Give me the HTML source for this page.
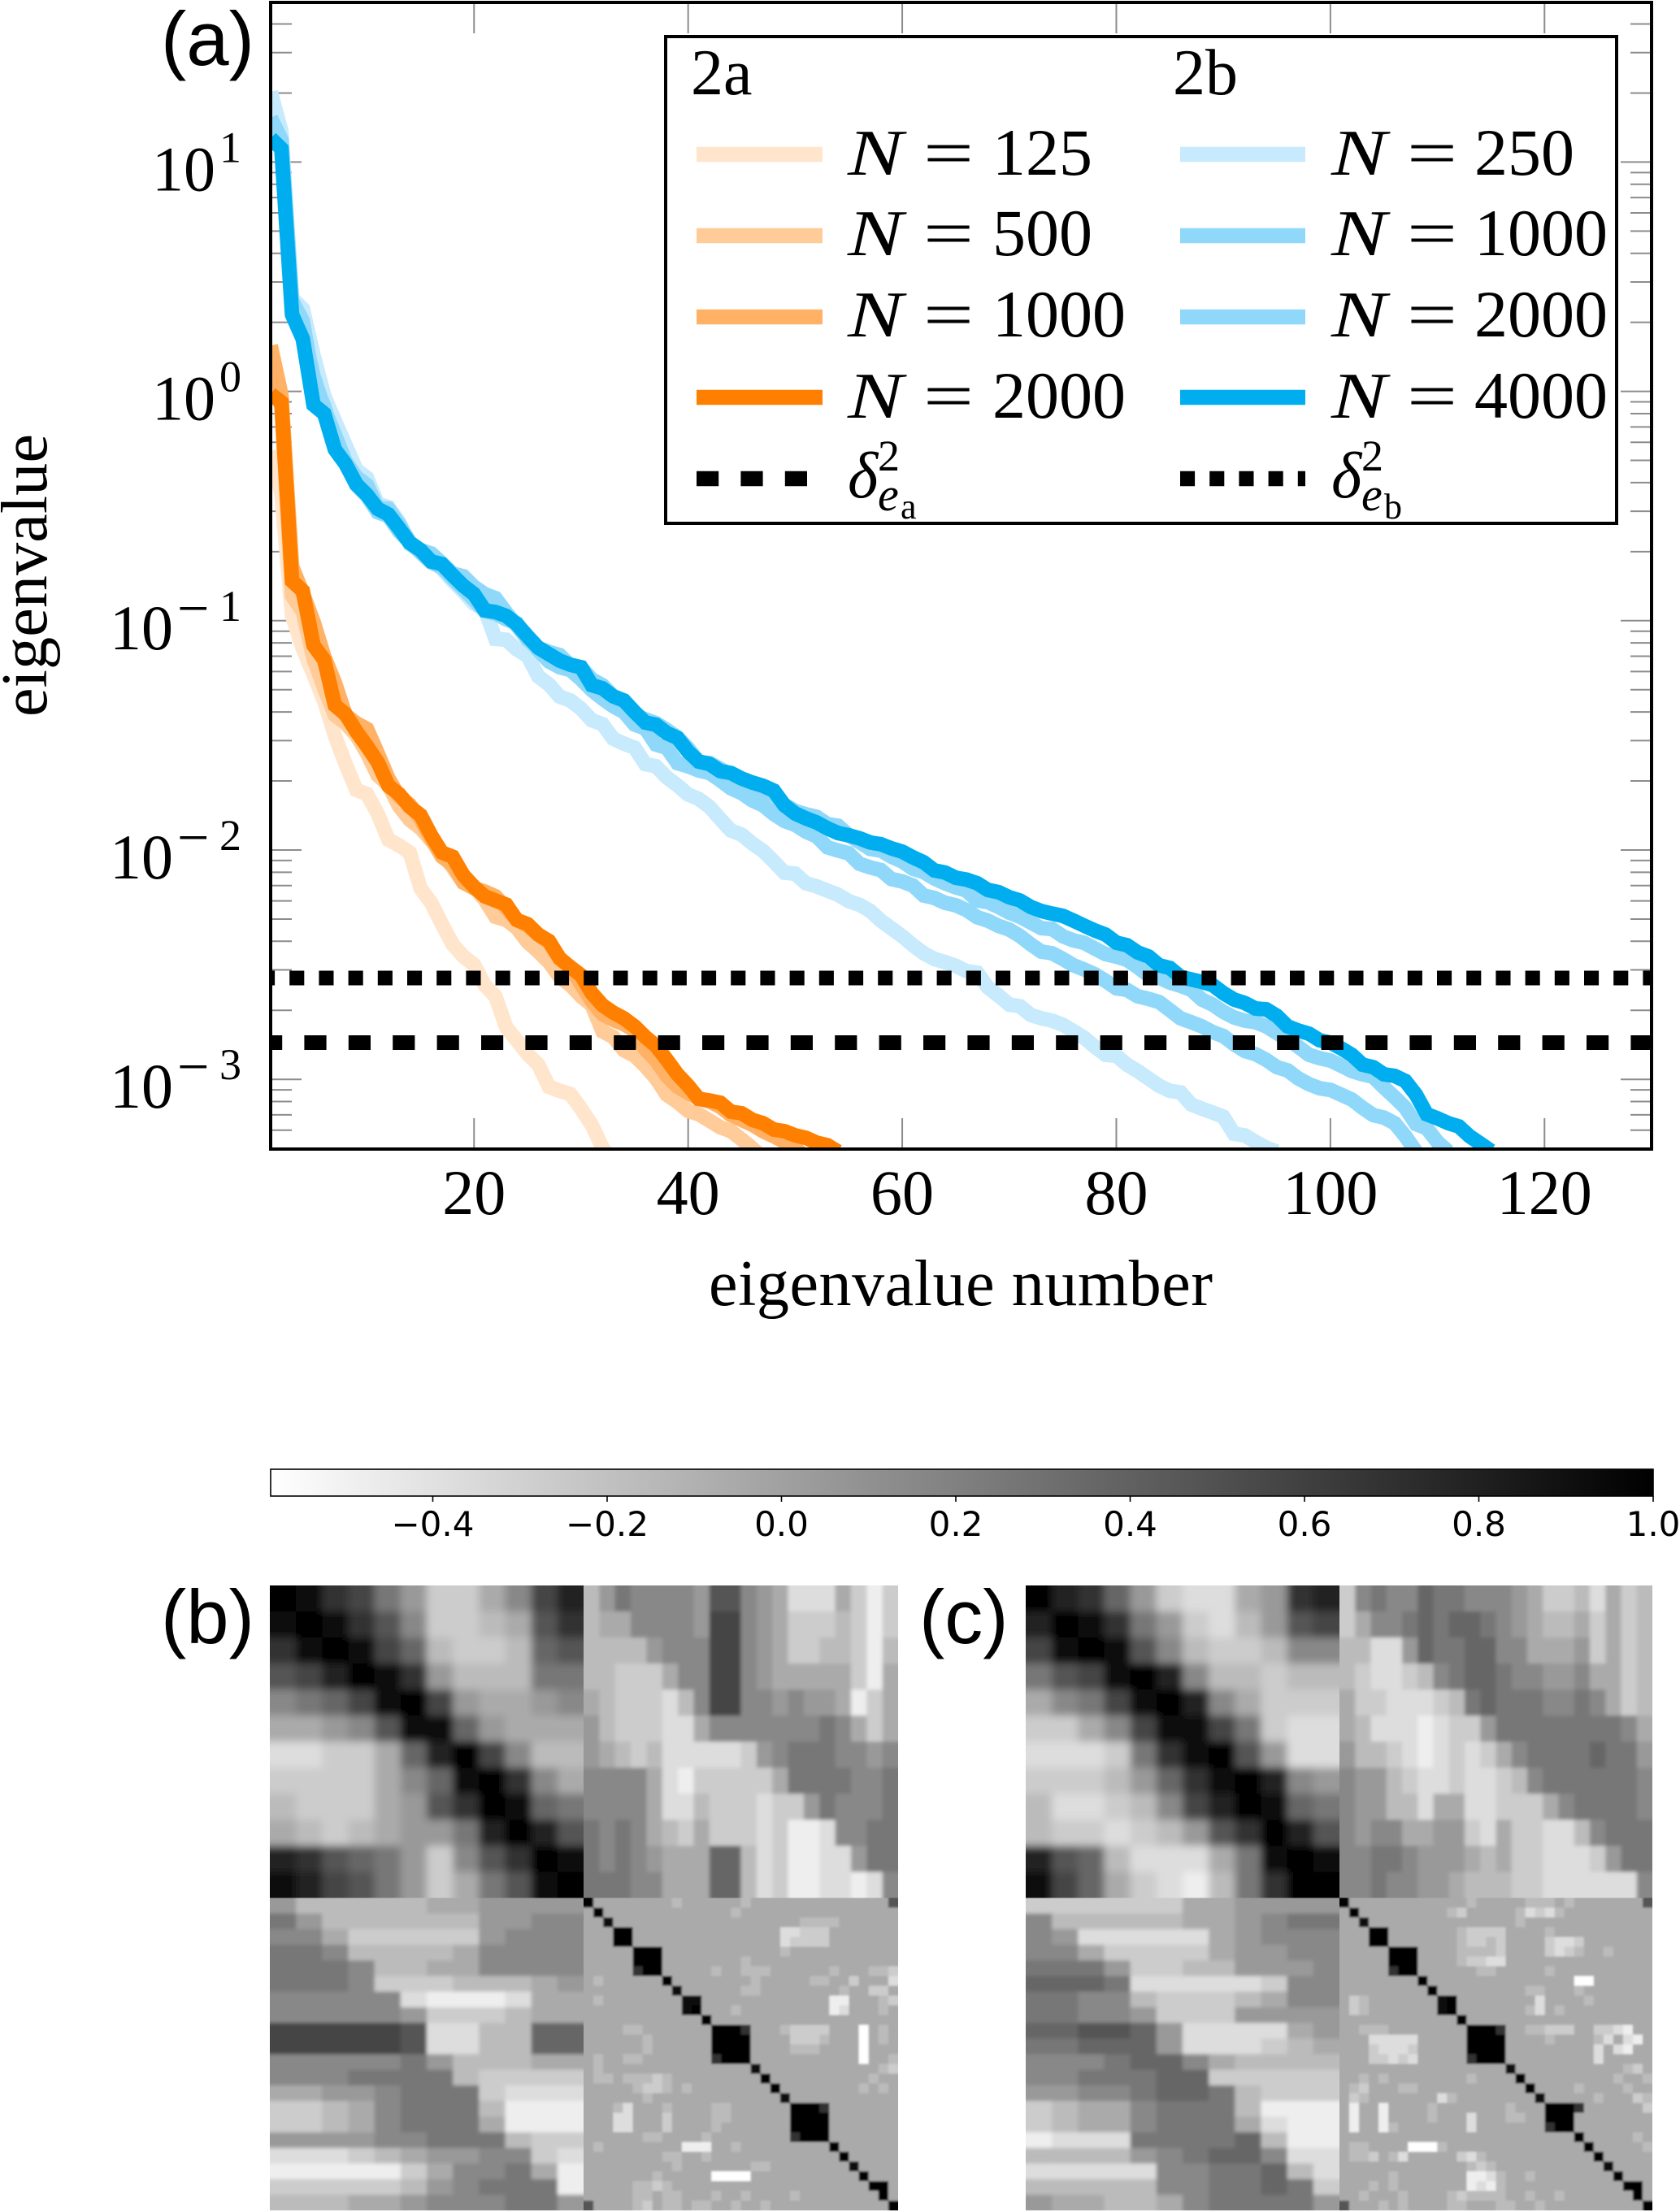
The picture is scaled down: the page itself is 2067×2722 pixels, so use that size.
<!DOCTYPE html>
<html>
<head>
<meta charset="utf-8">
<title>Eigenvalue spectra and correlation matrices</title>
<style>
html,body{margin:0;padding:0;background:#fff;}
svg{display:block;}
text{font-family:"Liberation Serif",serif;fill:#000;}
</style>
</head>
<body>
<svg id="fig" xmlns="http://www.w3.org/2000/svg" width="2067" height="2722" viewBox="0 0 2067 2722">
<defs>
<clipPath id="axclip"><rect x="333" y="3" width="1699" height="1411"/></clipPath>
<linearGradient id="cbgrad" x1="0" x2="1" y1="0" y2="0"><stop offset="0" stop-color="#fff"/><stop offset="1" stop-color="#000"/></linearGradient>
<filter id="blurA" filterUnits="userSpaceOnUse" x="0" y="1800" width="2067" height="922"><feGaussianBlur stdDeviation="5"/></filter>
<filter id="blurB" filterUnits="userSpaceOnUse" x="0" y="1800" width="2067" height="922"><feGaussianBlur stdDeviation="2.5"/></filter>
<filter id="blurC" filterUnits="userSpaceOnUse" x="0" y="1800" width="2067" height="922"><feGaussianBlur stdDeviation="1.3"/></filter>
</defs>

<g id="ticks"></g>
<g id="curves" clip-path="url(#axclip)"></g>
<g id="hlines" clip-path="url(#axclip)"></g>
<rect x="333" y="3" width="1699" height="1411" fill="none" stroke="#000" stroke-width="4"/>
<g id="ticklabels"></g>

<text x="198" y="80" font-size="94" style="font-family:'Liberation Sans',sans-serif">(a)</text>
<text x="1182" y="1606" font-size="80" text-anchor="middle" textLength="620">eigenvalue number</text>
<text x="57" y="708" font-size="80" text-anchor="middle" textLength="348" transform="rotate(-90 57 708)">eigenvalue</text>

<g>
<rect x="819" y="45" width="1170" height="599" fill="#fff" stroke="#000" stroke-width="4"/>
<text x="850" y="116" font-size="80">2a</text>
<text x="1443" y="116" font-size="80">2b</text>
<g stroke-width="18.4" fill="none">
<line x1="857" x2="1012" y1="190" y2="190" stroke="#ffe5cc"/>
<line x1="857" x2="1012" y1="290" y2="290" stroke="#ffcc99"/>
<line x1="857" x2="1012" y1="390" y2="390" stroke="#ffb266"/>
<line x1="857" x2="1012" y1="489" y2="489" stroke="#ff8000"/>
<line x1="857" x2="1012" y1="589" y2="589" stroke="#000" stroke-dasharray="27.2 27.2"/>
<line x1="1452" x2="1606" y1="190" y2="190" stroke="#c7eafc"/>
<line x1="1452" x2="1606" y1="290" y2="290" stroke="#8fd8f9"/>
<line x1="1452" x2="1606" y1="390" y2="390" stroke="#8fd8f9"/>
<line x1="1452" x2="1606" y1="489" y2="489" stroke="#00aeef"/>
<line x1="1452" x2="1606" y1="589" y2="589" stroke="#000" stroke-dasharray="18.1 18.1"/>
</g>
<g font-size="80">
<g><text x="1043" y="215" font-style="italic" textLength="68" lengthAdjust="spacingAndGlyphs">N</text><text x="1136" y="215" textLength="62" lengthAdjust="spacingAndGlyphs">=</text><text x="1221" y="215" font-size="82">125</text></g>
<g><text x="1043" y="314" font-style="italic" textLength="68" lengthAdjust="spacingAndGlyphs">N</text><text x="1136" y="314" textLength="62" lengthAdjust="spacingAndGlyphs">=</text><text x="1221" y="314" font-size="82">500</text></g>
<g><text x="1043" y="414" font-style="italic" textLength="68" lengthAdjust="spacingAndGlyphs">N</text><text x="1136" y="414" textLength="62" lengthAdjust="spacingAndGlyphs">=</text><text x="1221" y="414" font-size="82">1000</text></g>
<g><text x="1043" y="514" font-style="italic" textLength="68" lengthAdjust="spacingAndGlyphs">N</text><text x="1136" y="514" textLength="62" lengthAdjust="spacingAndGlyphs">=</text><text x="1221" y="514" font-size="82">2000</text></g>
<g><text x="1638" y="215" font-style="italic" textLength="68" lengthAdjust="spacingAndGlyphs">N</text><text x="1731" y="215" textLength="62" lengthAdjust="spacingAndGlyphs">=</text><text x="1814" y="215" font-size="82">250</text></g>
<g><text x="1638" y="314" font-style="italic" textLength="68" lengthAdjust="spacingAndGlyphs">N</text><text x="1731" y="314" textLength="62" lengthAdjust="spacingAndGlyphs">=</text><text x="1814" y="314" font-size="82">1000</text></g>
<g><text x="1638" y="414" font-style="italic" textLength="68" lengthAdjust="spacingAndGlyphs">N</text><text x="1731" y="414" textLength="62" lengthAdjust="spacingAndGlyphs">=</text><text x="1814" y="414" font-size="82">2000</text></g>
<g><text x="1638" y="514" font-style="italic" textLength="68" lengthAdjust="spacingAndGlyphs">N</text><text x="1731" y="514" textLength="62" lengthAdjust="spacingAndGlyphs">=</text><text x="1814" y="514" font-size="82">4000</text></g>
<g><text x="1043" y="612" font-style="italic">δ</text><text x="1080" y="579" font-size="54">2</text><text x="1080" y="628" font-size="58" font-style="italic">e</text><text x="1108" y="638" font-size="44">a</text></g>
<g><text x="1638" y="612" font-style="italic">δ</text><text x="1675" y="579" font-size="54">2</text><text x="1675" y="628" font-size="58" font-style="italic">e</text><text x="1703" y="638" font-size="44">b</text></g>
</g>
</g>

<g id="colorbar">
<rect x="333" y="1808" width="1701" height="33" fill="url(#cbgrad)" stroke="#000" stroke-width="1.6"/>
</g>

<text x="198" y="2022" font-size="94" style="font-family:'Liberation Sans',sans-serif">(b)</text>
<text x="1131" y="2022" font-size="94" style="font-family:'Liberation Sans',sans-serif">(c)</text>
<g id="heatB"></g>
<g id="heatC"></g>
</svg>

<script>
// ---- Panel (a) data: log10(eigenvalue), listed for eigenvalue number 1, 2, 3, ...
const log10Eig2a125 = [-.260,-.444,-.976,-1.121,-1.235,-1.352,-1.501,-1.625,-1.738,-1.756,-1.841,-1.955,-1.980,-2.011,-2.167,-2.231,-2.323,-2.411,-2.464,-2.500,-2.589,-2.638,-2.773,-2.830,-2.890,-2.936,-3.032,-3.050,-3.064,-3.128,-3.199,-3.298,-3.362];
const log10Eig2a500 = [.041,-.065,-.891,-.962,-1.164,-1.295,-1.412,-1.447,-1.500,-1.578,-1.674,-1.717,-1.809,-1.869,-1.905,-1.958,-2.011,-2.075,-2.142,-2.160,-2.217,-2.291,-2.305,-2.340,-2.401,-2.443,-2.489,-2.553,-2.589,-2.638,-2.677,-2.791,-2.815,-2.873,-2.897,-2.943,-2.996,-3.067,-3.099,-3.138,-3.152,-3.180,-3.209,-3.226,-3.262,-3.301,-3.343];
const log10Eig2a1000 = [.200,-.016,-.763,-.880,-1.004,-1.156,-1.270,-1.412,-1.447,-1.472,-1.578,-1.688,-1.767,-1.802,-1.866,-1.951,-2.029,-2.064,-2.142,-2.167,-2.181,-2.202,-2.252,-2.305,-2.330,-2.369,-2.404,-2.476,-2.511,-2.585,-2.660,-2.716,-2.741,-2.759,-2.787,-2.869,-2.918,-2.985,-3.032,-3.060,-3.085,-3.096,-3.120,-3.156,-3.177,-3.198,-3.226,-3.248,-3.273,-3.298,-3.343];
const log10Eig2a2000 = [-.012,-.047,-.827,-.870,-1.107,-1.171,-1.369,-1.408,-1.483,-1.547,-1.617,-1.720,-1.756,-1.812,-1.848,-1.937,-2.011,-2.029,-2.110,-2.160,-2.202,-2.220,-2.238,-2.305,-2.323,-2.369,-2.397,-2.472,-2.511,-2.546,-2.624,-2.677,-2.709,-2.734,-2.769,-2.815,-2.854,-2.914,-2.978,-3.028,-3.085,-3.092,-3.102,-3.141,-3.148,-3.177,-3.191,-3.219,-3.226,-3.244,-3.255,-3.276,-3.287,-3.315];
const log10Eig2b250 = [1.306,1.133,.406,.360,.158,-.019,-.129,-.235,-.342,-.377,-.490,-.505,-.569,-.668,-.692,-.735,-.774,-.827,-.873,-.926,-.951,-1.079,-1.083,-1.125,-1.154,-1.243,-1.278,-1.331,-1.348,-1.384,-1.434,-1.451,-1.515,-1.536,-1.554,-1.625,-1.635,-1.683,-1.718,-1.758,-1.777,-1.812,-1.865,-1.915,-1.933,-1.972,-2.004,-2.050,-2.099,-2.103,-2.145,-2.158,-2.177,-2.195,-2.223,-2.239,-2.265,-2.308,-2.342,-2.376,-2.415,-2.450,-2.475,-2.489,-2.505,-2.528,-2.535,-2.599,-2.635,-2.674,-2.681,-2.719,-2.734,-2.744,-2.762,-2.790,-2.819,-2.858,-2.893,-2.897,-2.936,-2.964,-2.996,-3.028,-3.050,-3.057,-3.110,-3.128,-3.145,-3.163,-3.237,-3.244,-3.273,-3.298,-3.315];
const log10Eig2b1000 = [1.193,1.097,.396,.307,.041,-.065,-.224,-.313,-.409,-.456,-.527,-.544,-.611,-.658,-.703,-.746,-.767,-.816,-.862,-.909,-.958,-.969,-.994,-1.011,-1.075,-1.129,-1.178,-1.203,-1.215,-1.256,-1.303,-1.340,-1.373,-1.398,-1.453,-1.470,-1.540,-1.554,-1.621,-1.635,-1.653,-1.664,-1.696,-1.731,-1.752,-1.784,-1.805,-1.843,-1.873,-1.890,-1.920,-1.940,-1.988,-2.002,-2.014,-2.060,-2.076,-2.087,-2.127,-2.137,-2.155,-2.198,-2.209,-2.230,-2.241,-2.262,-2.293,-2.308,-2.331,-2.347,-2.375,-2.411,-2.443,-2.450,-2.475,-2.503,-2.521,-2.542,-2.571,-2.603,-2.610,-2.638,-2.649,-2.663,-2.698,-2.734,-2.751,-2.769,-2.794,-2.811,-2.847,-2.876,-2.890,-2.915,-2.947,-2.961,-2.996,-3.021,-3.039,-3.046,-3.067,-3.088,-3.124,-3.156,-3.167,-3.191,-3.248,-3.315];
const log10Eig2b2000 = [1.140,1.069,.360,.271,.066,-.076,-.189,-.306,-.374,-.409,-.508,-.512,-.579,-.657,-.692,-.707,-.749,-.795,-.806,-.852,-.884,-.902,-.965,-1.022,-1.082,-1.118,-1.136,-1.150,-1.196,-1.203,-1.256,-1.281,-1.330,-1.348,-1.412,-1.430,-1.447,-1.476,-1.508,-1.557,-1.617,-1.621,-1.646,-1.674,-1.699,-1.717,-1.738,-1.759,-1.802,-1.830,-1.844,-1.855,-1.887,-1.894,-1.936,-1.965,-1.995,-2.002,-2.029,-2.050,-2.082,-2.096,-2.124,-2.145,-2.163,-2.177,-2.220,-2.227,-2.248,-2.273,-2.291,-2.316,-2.341,-2.344,-2.376,-2.394,-2.405,-2.430,-2.454,-2.465,-2.479,-2.511,-2.546,-2.557,-2.578,-2.592,-2.610,-2.652,-2.674,-2.706,-2.730,-2.744,-2.751,-2.769,-2.798,-2.826,-2.858,-2.893,-2.908,-2.918,-2.940,-2.964,-2.978,-2.989,-3.035,-3.078,-3.124,-3.195,-3.213,-3.273,-3.315];
const log10Eig2b4000 = [1.104,1.058,.335,.229,-.059,-.097,-.253,-.317,-.405,-.451,-.512,-.537,-.597,-.661,-.692,-.742,-.753,-.802,-.848,-.884,-.955,-.962,-.979,-1.015,-1.068,-1.118,-1.146,-1.174,-1.192,-1.203,-1.281,-1.295,-1.330,-1.348,-1.398,-1.444,-1.454,-1.490,-1.511,-1.571,-1.614,-1.625,-1.656,-1.664,-1.688,-1.706,-1.720,-1.741,-1.805,-1.841,-1.862,-1.880,-1.905,-1.926,-1.936,-1.949,-1.967,-1.975,-1.993,-2.007,-2.032,-2.053,-2.089,-2.098,-2.121,-2.129,-2.145,-2.174,-2.184,-2.206,-2.220,-2.248,-2.266,-2.277,-2.287,-2.308,-2.330,-2.351,-2.369,-2.404,-2.415,-2.447,-2.464,-2.503,-2.514,-2.553,-2.564,-2.575,-2.589,-2.624,-2.652,-2.667,-2.691,-2.695,-2.723,-2.769,-2.787,-2.801,-2.830,-2.840,-2.865,-2.893,-2.936,-2.947,-2.978,-2.985,-3.007,-3.067,-3.152,-3.170,-3.191,-3.205,-3.248,-3.280,-3.312];
const log10Delta2a = -2.84;
const log10Delta2b = -2.558;
const xTickValues = [20,40,60,80,100,120];
const yTickExponents = [1,0,-1,-2,-3];
const colorbarTicks = [-0.4,-0.2,0.0,0.2,0.4,0.6,0.8,1.0];

// ---- Correlation matrices: each hex digit is a gray level (0 black .. f white)
const heatB_TL = ["0134 79cc a842","1013 58cc ba53","3101 46bc cb65","5420 139b bb77","8764 1049 aa98","aa98 5116 9aaa","ddcc a620 48bb","cccc a861 038a","bccc a953 0167","abcb a997 2025","2356 79c8 5301","1245 79ca 7510"];
const heatB_TR = ["b978 8889 5589 addd acec","baa8 8889 4489 accc bcec","bbbb 9888 4489 accb bceb","bbcc ca88 4489 aaaa acea","abcc cdb8 4488 9899 aeca","9bcc cdda 8888 8887 8aca","9abc bddd ddc9 8777 8898","8888 adec cccc a777 7887","8888 addb cccd cc97 8887","7878 abca cccd ceed 8877","7878 9aaa 66bd ceed d977","7778 8aaa 66bd ceed ded8"];
const heatB_BL = ["9bbb bbaa 9999","79bb bbbb 9988","88ac cccc 9888","778b bbba 8888","7778 bbaa 8888","7778 cccb bba9","8888 8dee edaa","8888 89cc cbaa","4444 45dd bb66","4444 45dd bb66","8888 879b bbaa","8887 777b cccc","aa99 8777 cddd","ccba 8777 beee","ccba 8777 aeee","9999 8877 7bcc","dddc ba99 88cd","eeee eca8 87ae","cccc cb98 777e","bbba a988 8779"];
const heatB_BR = ["0aaaaaaa abaaaaaa baaaaaaa aaaaaaa5","a0aaaaaa aaaaaaab aaaaaaaa aaaaaaaa","aa1aaaaa aaaaaaaa aaaaaabb bbaaaaaa","aaa00aaa aaaaaaaa aaaaddcc caaaaaaa","aaa00aaa aaaaaaaa aaaadccc caaaaaaa","aaaaa000 aaaaaaaa aaaabaaa aaaaaaaa","aaaaa000 aaaaaaaa baaaaaaa aaaaaaaa","aaaaa300 aaaaabaa bbbaaaaa abaaabbc","abaaaaaa 0aaaaaaa abaaaaab baacaaad","aaaaaaaa a1aaaaaa bbaaaaaa aabaacca","abaaaaaa aa11aaaa aaaaaaaa aeeaaabc","aaaaaaaa aa10aaab aaaaaaaa aedaaaba","aaaaaaaa aaaa0aaa aaaaaaaa aaaaaaaa","aaaabbaa aaaaa000 3aaabccc caaafaba","aaaaaaba aaaaa000 0aaaaccc baaafaba","aaaaaaba aaaaa000 0aaaabbb aaaafaaa","abaabbaa aaaaa300 0aaaaaaa aaaafaab","abaaaaaa aaaaaaaa a1aaaaaa aaaaaabc","abbabbbc baaaaaaa aa0aaaaa aaaaabaa","aaaaabcc babaaaaa aaa0aaaa aaaababa","aaaaaaba aaaaaaaa aaaa1aaa aaaaaaaa","aaabdaaa baaaabba aaaaa000 3aaaaaaa","aaaddaaa caaaabba aaaaa000 0aaaaaaa","aaaddaaa caaaabaa aaaaa000 0aaaaaaa","aaaaaabb aaaabaaa aaaaa300 0aaaaaaa","abaaaaaa aaeeeaab aaaaaaaa a0aaaaaa","aaaaaaaa bbaabaaa aaaaaaaa aa0aaaaa","aaaaaaaa abaaaaaa abbaaaaa aaa1aaaa","aaaaaaab aaaaafff faaaaaaa aaaa0aaa","aaaaabbc baaaaaaa aaaaaaaa aaaaa00a","aaaaabba bbaaabaa baaaabaa aaaaaa0a","5aaaabca bbabbaab aabaaaaa aaaaaaa0"];

const heatC_TL = ["0236 9cdd a932","2013 79cd b954","4101 58bc cb88","7541 028b bcbb","a874 1028 accc","cca8 4114 7cdd","dddc 7310 59dd","cccb 9631 0289","bddc b842 0167","bccd cb95 3025","256b ddda 7101","146a cdeb 7300"];
const heatC_TR = ["c878 8677 8889 accb dacb","ca88 7676 6789 abba cacb","bbdd 9677 6688 aaa9 cacb","bcdd cb87 6678 8998 aacb","accd ddcb 7677 7887 8acb","abdd dedc c977 7777 778a","9bbc dedc dca8 7777 6779","899b cddc ddcb 8777 7778","899b bdaa ddcc ca87 7778","8988 aa99 cdac cddb 8777","8877 8999 abac cddd c977","8878 899a bbbc cddd ddd8"];
const heatC_BL = ["cccc ccaa 9999","8bbb bbaa 9877","89dd ddda 9888","88ac ccca 9988","7779 ccbb 9998","6667 dddd dc88","7788 bccc ba88","7788 9ccc 9999","6655 69dd dda9","7766 69dd dcba","8887 668a bbbb","8877 766c cccc","9988 7667 bccc","cbaa 8777 beee","cbaa 8777 adee","eddd 7777 6bee","bbbb 9876 68dd","dddd d887 76bd","bbbb b887 767c","9aab ba87 7779"];
const heatC_BR = ["0aaaaaaa aaaaabaa aaabbbab aaaaaaa5","a0aaaaaa aaabcaaa aabdcdba aaaaaaaa","aa1aaaaa aaaaaaaa aabaaaaa aaaaaaaa","aaa00aaa aaaabccc caaaabaa aaaaaaaa","aaa00aaa aaaabccb caaaacdd caaaaaaa","aaaaa000 aaaabbbb caaaacdc baabaaaa","aaaaa000 aaaabccd daaaaaaa aaaaaaaa","aaaaa300 aaaaaabb aaaaabaa aaaaaaaa","aaaaaaaa 0aaaaaaa aaaaaaaa ffaaaaaa","aaaaaaaa a0aaaaaa aaabbaaa baaaaaaa","acbaaaaa aa10aaaa aaaadaaa abaaaaaa","acbaaaaa aa10aaaa aaabdaba aaaaaaaa","aaaaaaaa aaaa0aaa aaaaaaaa aaaaaaaa","aabbbaaa aaaaa000 3aabbccc aaccdeaa","aaaddddd aaaaa000 0aaaabaa aabdadea","aaacdddc aaaaa000 0aaaaaaa aadadeaa","aaaccdcd aaaaa300 0aaaaaaa aadaaaaa","aaaaaaaa aaaaaaaa a1aaaaaa aaaaabca","aababaaa aaaaabaa aa0aaaaa aaaabaab","abcaaabb aaaaaaaa aaa0aaaa baaaabaa","acbaaaaa aadbaaaa aaaa1aaa aabaaacb","aeaaeaaa abaaaaaa abaaa000 3aaaaaac","aeaaeaaa abaaadaa abbaa000 aaaaaaaa","aeaaebaa aaaaadaa aaaaa300 aaaaaaaa","aaaaaaaa aaaaaaaa aaaaaaaa 0aaaaaba","abbaaaaf ffbaaaaa aaaaaaaa a0aaaaab","abbcabda aaaacdba aaaaaaaa aa0aaaaa","aaaaaaaa aaaaabcb aaaaaaaa aaa1aaaa","aaaaabaa aaaaaeed baabaaaa aaaa0aaa","aaababaa aaaaaede baaaaaaa aaaaa00a","aabaaaba aaabcbbb baabaaba aaaaaa0a","5aaababa aaabbaaa bbaabaaa aaaaaaa0"];

// ---- Axis functions
const SVGNS = 'http://www.w3.org/2000/svg';
function xScale(k){ return 333 + (k - 1) * (2032 - 333) / 129; }
function yScale(logv){ return 481.6 - logv * 282.2; }
function cbScale(v){ return 333 + (v + 0.586) / 1.586 * (2034 - 333); }
function gray(d){ const g = parseInt(d, 16) * 17; return 'rgb(' + g + ',' + g + ',' + g + ')'; }
function make(tag, attrs, parent){
  const el = document.createElementNS(SVGNS, tag);
  for (const k in attrs) el.setAttribute(k, attrs[k]);
  parent.appendChild(el);
  return el;
}

// ---- Ticks
const ticksG = document.getElementById('ticks');
const tickColor = '#8c8c8c';
xTickValues.forEach(function(v){
  const px = xScale(v);
  const b = make('line', {x1:px, x2:px, y1:1414, y2:1376, stroke:tickColor, 'stroke-width':2}, ticksG);
  
  
  const t = make('line', {x1:px, x2:px, y1:3, y2:41, stroke:tickColor, 'stroke-width':2}, ticksG);
  
  
});
for (let d = -4; d <= 1; d++){
  for (let m = 1; m <= 9; m++){
    const py = yScale(d + Math.log10(m));
    if (py < 3 || py > 1414) continue;
    const len = m === 1 ? 38 : 26;
    const l = make('line', {x1:333, x2:333 + len, y1:py, y2:py, stroke:tickColor, 'stroke-width':2}, ticksG);
    
    
    const r = make('line', {x1:2032, x2:2032 - len, y1:py, y2:py, stroke:tickColor, 'stroke-width':2}, ticksG);
    
    
  }
}

// ---- Tick labels
const labelsG = document.getElementById('ticklabels');
xTickValues.forEach(function(v){
  const t = make('text', {x:xScale(v), y:1494, 'font-size':78, 'text-anchor':'middle'}, labelsG);
  t.textContent = String(v);
  
  
});
yTickExponents.forEach(function(e){
  const base = yScale(e) + 35;
  const neg = e < 0;
  const t = make('text', {x: neg ? 135 : 187, y:base, 'font-size':78}, labelsG);
  t.textContent = '10';
  
  
  if (neg){
    const m = make('text', {x:218, y:base - 27, 'font-size':70}, labelsG);
    m.textContent = '\u2212';
    
    
  }
  const s = make('text', {x:270, y:base - 35, 'font-size':54}, labelsG);
  s.textContent = String(Math.abs(e));
  
  
});

// ---- Curves
const curvesG = document.getElementById('curves');
const seriesList = [
  {name:'curve-2a-n125',  color:'#ffe5cc', values:log10Eig2a125},
  {name:'curve-2a-n500',  color:'#ffcc99', values:log10Eig2a500},
  {name:'curve-2a-n1000', color:'#ffb266', values:log10Eig2a1000},
  {name:'curve-2a-n2000', color:'#ff8000', values:log10Eig2a2000},
  {name:'curve-2b-n250',  color:'#c7eafc', values:log10Eig2b250},
  {name:'curve-2b-n1000', color:'#8fd8f9', values:log10Eig2b1000},
  {name:'curve-2b-n2000', color:'#8fd8f9', values:log10Eig2b2000},
  {name:'curve-2b-n4000', color:'#00aeef', values:log10Eig2b4000}
];
seriesList.forEach(function(s){
  const pts = s.values.map(function(v, i){ return xScale(i + 1).toFixed(1) + ',' + yScale(v).toFixed(1); }).join(' ');
  const p = make('polyline', {points:pts, fill:'none', stroke:s.color, 'stroke-width':18, 'stroke-linejoin':'miter', 'stroke-miterlimit':10}, curvesG);
  
  
});

// ---- Threshold lines
const hG = document.getElementById('hlines');
const dashLine = make('line', {x1:333, x2:2032, y1:yScale(log10Delta2a), y2:yScale(log10Delta2a), stroke:'#000', 'stroke-width':18, 'stroke-dasharray':'27.2 27.2', 'stroke-dashoffset':13}, hG);


const dotLine = make('line', {x1:333, x2:2032, y1:yScale(log10Delta2b), y2:yScale(log10Delta2b), stroke:'#000', 'stroke-width':18, 'stroke-dasharray':'18.1 18.1', 'stroke-dashoffset':13}, hG);



// ---- Colorbar ticks
const cbG = document.getElementById('colorbar');
colorbarTicks.forEach(function(v){
  const px = cbScale(v);
  const l = make('line', {x1:px, x2:px, y1:1841, y2:1848, stroke:'#000', 'stroke-width':1.6}, cbG);
  
  
  const t = make('text', {x:px, y:1890, 'font-size':42, 'text-anchor':'middle', style:"font-family:'DejaVu Sans',sans-serif"}, cbG);
  t.textContent = v.toFixed(1).replace('-', '\u2212');
  
  
});

// ---- Heatmaps
let clipCounter = 0;
function drawQuadrant(parent, rows, x0, y0, w, h, filterId, name){
  const clean = rows.map(function(r){ return r.replace(/ /g, ''); });
  const nr = clean.length;
  const nc = clean[0].length;
  const defs = make('clipPath', {id:'hq' + (++clipCounter)}, parent);
  make('rect', {x:x0, y:y0, width:w, height:h}, defs);
  const outer = make('g', {'clip-path':'url(#hq' + clipCounter + ')'}, parent);
  
  
  const inner = make('g', {filter:'url(#' + filterId + ')'}, outer);
  const pad = 40;
  for (let j = 0; j < nr; j++){
    for (let i = 0; i < nc; i++){
      const d = clean[j][i] || 'a';
      let rx = x0 + i * w / nc, ry = y0 + j * h / nr;
      let rw = w / nc + 0.6, rh = h / nr + 0.6;
      if (i === 0){ rx -= pad; rw += pad; }
      if (j === 0){ ry -= pad; rh += pad; }
      if (i === nc - 1) rw += pad;
      if (j === nr - 1) rh += pad;
      const c = make('rect', {x:rx.toFixed(1), y:ry.toFixed(1), width:rw.toFixed(1), height:rh.toFixed(1), fill:gray(d)}, inner);
      
      
    }
  }
}
const hTop = 1951, hMid = 2335.5, hBot = 2720;
const gB = document.getElementById('heatB');
drawQuadrant(gB, heatB_TL, 332, hTop, 386, hMid - hTop, 'blurA', 'heatmap-b-top-left');
drawQuadrant(gB, heatB_TR, 718, hTop, 387, hMid - hTop, 'blurB', 'heatmap-b-top-right');
drawQuadrant(gB, heatB_BL, 332, hMid, 386, hBot - hMid, 'blurB', 'heatmap-b-bottom-left');
drawQuadrant(gB, heatB_BR, 718, hMid, 387, hBot - hMid, 'blurC', 'heatmap-b-bottom-right');
const gC = document.getElementById('heatC');
drawQuadrant(gC, heatC_TL, 1262, hTop, 386, hMid - hTop, 'blurA', 'heatmap-c-top-left');
drawQuadrant(gC, heatC_TR, 1648, hTop, 385, hMid - hTop, 'blurB', 'heatmap-c-top-right');
drawQuadrant(gC, heatC_BL, 1262, hMid, 386, hBot - hMid, 'blurB', 'heatmap-c-bottom-left');
drawQuadrant(gC, heatC_BR, 1648, hMid, 385, hBot - hMid, 'blurC', 'heatmap-c-bottom-right');
</script>
</body>
</html>
